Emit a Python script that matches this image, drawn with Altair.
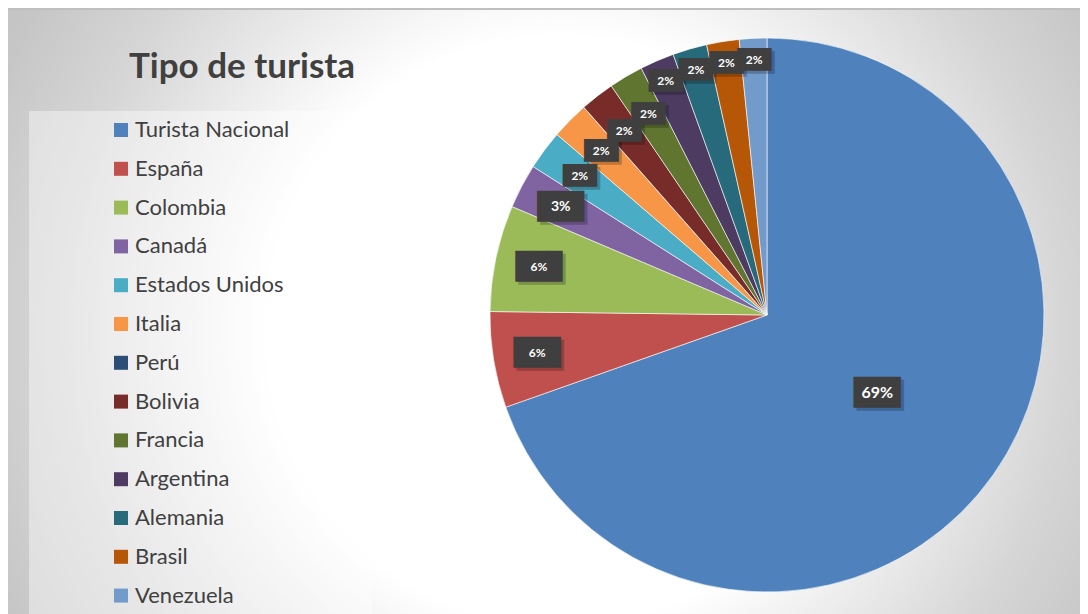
import altair as alt
import pandas as pd

categories = ["Turista Nacional", "España", "Colombia", "Canadá", "Estados Unidos", "Italia",
              "Perú", "Bolivia", "Francia", "Argentina", "Alemania", "Brasil", "Venezuela"]
shares = [69.6, 5.6, 6.2, 2.6, 2.3, 2.2, 0.0, 2.0, 2.0, 2.0, 2.0, 1.9, 1.6]
labels = ["69%", "6%", "6%", "3%", "2%", "2%", "", "2%", "2%", "2%", "2%", "2%", "2%"]
colors = ["#4F81BD", "#C0504D", "#9BBB59", "#8064A2", "#4BACC6", "#F79646", "#2C4D75",
          "#772C2A", "#5F7530", "#4D3B62", "#276A7C", "#B65708", "#729ACA"]
title_text = "Tipo de turista"

df = pd.DataFrame({"tipo": categories, "share": shares, "label": labels,
                   "idx": list(range(len(categories)))})

W, H = 1072, 606
CX, CY, R = 759, 307, 277

one = alt.Data(values=[{"k": 1}])

bg = alt.Chart(one).mark_rect(
    clip=True,
    color=alt.Gradient(
        gradient="radial",
        stops=[alt.GradientStop(color="#ffffff", offset=0),
               alt.GradientStop(color="#ffffff", offset=0.42),
               alt.GradientStop(color="#d6d6d6", offset=0.72),
               alt.GradientStop(color="#c6c6c6", offset=0.88),
               alt.GradientStop(color="#c0c0c0", offset=1)],
        x1=0.5, y1=0.5, x2=0.5, y2=0.5, r1=0, r2=0.5),
).encode(x=alt.value(552 - 700), x2=alt.value(552 + 700),
         y=alt.value(322 - 700), y2=alt.value(322 + 700))

legend_box = alt.Chart(one).mark_rect(fill="#ffffff", opacity=0.4).encode(
    x=alt.value(21), x2=alt.value(364), y=alt.value(103), y2=alt.value(H))

top_line = alt.Chart(one).mark_rule(color="#bfbfbf", strokeWidth=2).encode(
    x=alt.value(0), x2=alt.value(W), y=alt.value(1))

title = alt.Chart(one).mark_text(
    text=title_text, font="Lato", fontSize=35, fontWeight="bold", color="#404040",
    align="center", baseline="middle").encode(x=alt.value(234), y=alt.value(59))

base = alt.Chart(df)

arcs = base.mark_arc(outerRadius=R, stroke="#ffffff", strokeWidth=0.6).encode(
    theta=alt.Theta("share:Q", stack=True),
    order=alt.Order("idx:Q", sort="ascending"),
    color=alt.Color("tipo:N", sort=categories,
                    scale=alt.Scale(domain=categories, range=colors),
                    legend=alt.Legend(title=None, orient="none", legendX=102, legendY=111,
                                      symbolType="square", symbolSize=196,
                                      symbolStrokeWidth=0, labelFont="Lato",
                                      labelFontSize=22, labelColor="#404040",
                                      rowPadding=16.8, labelOffset=3, padding=0,
                                      labelLimit=300)),
    x=alt.value(CX), y=alt.value(CY),
)

lab_base = base.transform_joinaggregate(
    total="sum(share)"
).transform_window(
    cum="sum(share)", sort=[alt.SortField("idx", order="ascending")], frame=[None, 0]
).transform_filter("datum.share > 0").transform_calculate(
    ang="(datum.cum - datum.share / 2) / datum.total * 2 * PI",
    lr="datum.idx == 0 ? 135 : (datum.idx >= 9 ? 255 : 233)",
    bs="datum.idx <= 3 ? 26 : 19",
    lf="datum.idx == 0 ? 16 : (datum.idx == 3 ? 14 : 12)",
    box="'\u2588\u2588\u2588'",
)

common = dict(
    theta=alt.Theta("ang:Q", scale=None),
    radius=alt.Radius("lr:Q", scale=None),
    x=alt.value(CX), y=alt.value(CY),
)

shadow = lab_base.mark_text(font="DejaVu Sans Mono", color="#000000", opacity=0.22,
                            align="center", baseline="middle", dx=3, dy=3).encode(
    text="box:N", size=alt.Size("bs:Q", scale=None), **common)

boxes = lab_base.mark_text(font="DejaVu Sans Mono", color="#3f3f3f",
                           align="center", baseline="middle").encode(
    text="box:N", size=alt.Size("bs:Q", scale=None), **common)

texts = lab_base.mark_text(font="Lato", fontWeight="bold", color="#ffffff",
                           align="center", baseline="middle").encode(
    text="label:N", size=alt.Size("lf:Q", scale=None), **common)

chart = alt.layer(bg, legend_box, top_line, title, arcs, shadow, boxes, texts).properties(
    width=W, height=H, padding=0,
    autosize=alt.AutoSizeParams(type="none"),
).configure_view(stroke=None).resolve_scale(theta="independent")

chart.save("out.html", embed_options={"renderer": "svg", "actions": False})
